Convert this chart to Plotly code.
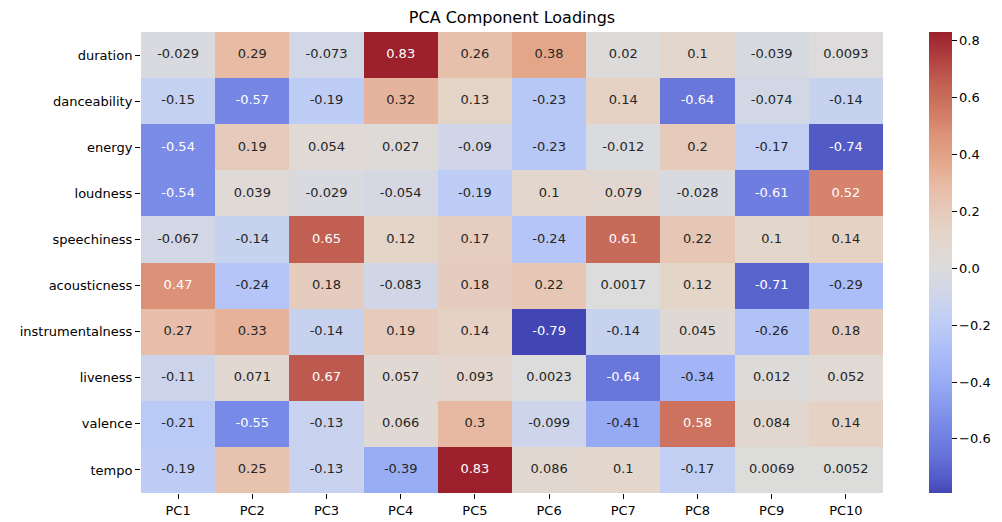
import plotly.graph_objects as go

features = ["duration", "danceability", "energy", "loudness", "speechiness",
            "acousticness", "instrumentalness", "liveness", "valence", "tempo"]
components = ["PC1", "PC2", "PC3", "PC4", "PC5", "PC6", "PC7", "PC8", "PC9", "PC10"]

loadings = [
    [-0.029, 0.29, -0.073, 0.83, 0.26, 0.38, 0.02, 0.1, -0.039, 0.0093],
    [-0.15, -0.57, -0.19, 0.32, 0.13, -0.23, 0.14, -0.64, -0.074, -0.14],
    [-0.54, 0.19, 0.054, 0.027, -0.09, -0.23, -0.012, 0.2, -0.17, -0.74],
    [-0.54, 0.039, -0.029, -0.054, -0.19, 0.1, 0.079, -0.028, -0.61, 0.52],
    [-0.067, -0.14, 0.65, 0.12, 0.17, -0.24, 0.61, 0.22, 0.1, 0.14],
    [0.47, -0.24, 0.18, -0.083, 0.18, 0.22, 0.0017, 0.12, -0.71, -0.29],
    [0.27, 0.33, -0.14, 0.19, 0.14, -0.79, -0.14, 0.045, -0.26, 0.18],
    [-0.11, 0.071, 0.67, 0.057, 0.093, 0.0023, -0.64, -0.34, 0.012, 0.052],
    [-0.21, -0.55, -0.13, 0.066, 0.3, -0.099, -0.41, 0.58, 0.084, 0.14],
    [-0.19, 0.25, -0.13, -0.39, 0.83, 0.086, 0.1, -0.17, 0.0069, 0.0052],
]

# coolwarm-like diverging scale (as rendered in the reference)
stops = [
    (0.000, (66, 70, 180)), (0.030, (82, 90, 198)), (0.090, (104, 118, 218)),
    (0.155, (122, 140, 232)), (0.235, (150, 170, 244)), (0.310, (172, 190, 248)),
    (0.370, (190, 205, 245)), (0.425, (206, 213, 234)), (0.488, (220, 220, 220)),
    (0.560, (228, 213, 202)), (0.610, (230, 202, 186)), (0.667, (232, 187, 165)),
    (0.722, (227, 166, 137)), (0.778, (220, 146, 120)), (0.810, (213, 130, 107)),
    (0.846, (204, 114, 94)), (0.889, (193, 96, 82)), (1.000, (157, 32, 45)),
]
colorscale = [[p, f"rgb{c}"] for p, c in stops]

flat = [v for row in loadings for v in row]
zmin, zmax = min(flat), max(flat)


def color_at(v):
    t = (v - zmin) / (zmax - zmin)
    t = min(max(t, 0.0), 1.0)
    for (p0, c0), (p1, c1) in zip(stops[:-1], stops[1:]):
        if p0 <= t <= p1:
            f = (t - p0) / (p1 - p0) if p1 > p0 else 0
            return tuple((c0[k] + (c1[k] - c0[k]) * f) / 255.0 for k in range(3))
    return tuple(c / 255.0 for c in stops[-1][1])


def lum(rgb):
    out = []
    for c in rgb:
        out.append(c / 12.92 if c <= 0.03928 else ((c + 0.055) / 1.055) ** 2.4)
    return 0.2126 * out[0] + 0.7152 * out[1] + 0.0722 * out[2]


tx, ty, tt, tc = [], [], [], []
for r, feat in enumerate(features):
    for c, comp in enumerate(components):
        v = loadings[r][c]
        tx.append(comp)
        ty.append(feat)
        tt.append(f"{v:.2g}")
        tc.append("#ffffff" if lum(color_at(v)) <= 0.408 else "#262626")

fig = go.Figure()
fig.add_trace(go.Heatmap(
    z=loadings, x=components, y=features,
    colorscale=colorscale, zmin=zmin, zmax=zmax,
    hoverinfo="skip",
    colorbar=dict(
        thickness=23, len=1.0, lenmode="fraction", y=0.5, yanchor="middle",
        x=1.062, xanchor="left", xpad=0, ypad=0, outlinewidth=0,
        tickvals=[-0.6, -0.4, -0.2, 0.0, 0.2, 0.4, 0.6, 0.8],
        ticktext=["\u22120.6", "\u22120.4", "\u22120.2", "0.0", "0.2", "0.4", "0.6", "0.8"],
        ticks="outside", ticklen=5, tickwidth=1, tickcolor="black",
        tickfont=dict(size=13, color="black"),
    ),
))
fig.add_trace(go.Scatter(
    x=tx, y=ty, text=tt, mode="text",
    textfont=dict(size=13, color=tc, family="DejaVu Sans"),
    hoverinfo="skip", showlegend=False,
))

fig.update_layout(
    width=1002, height=522,
    margin=dict(l=131, r=127, t=24, b=37),
    paper_bgcolor="white", plot_bgcolor="white",
    font=dict(family="DejaVu Sans", size=13, color="black"),
    title=dict(text="PCA Component Loadings", x=0.5, xref="paper", xanchor="center",
               y=1, yref="container", yanchor="top", pad=dict(t=4),
               font=dict(size=16, color="black")),
    xaxis=dict(showgrid=False, zeroline=False, ticks="outside", ticklen=5,
               tickwidth=1, tickcolor="black", showline=False,
               tickfont=dict(size=13, color="black")),
    yaxis=dict(showgrid=False, zeroline=False, ticks="outside", ticklen=5,
               tickwidth=1, tickcolor="black", autorange="reversed", showline=False,
               tickfont=dict(size=13, color="black")),
    showlegend=False,
)

fig.write_html("out.html")
